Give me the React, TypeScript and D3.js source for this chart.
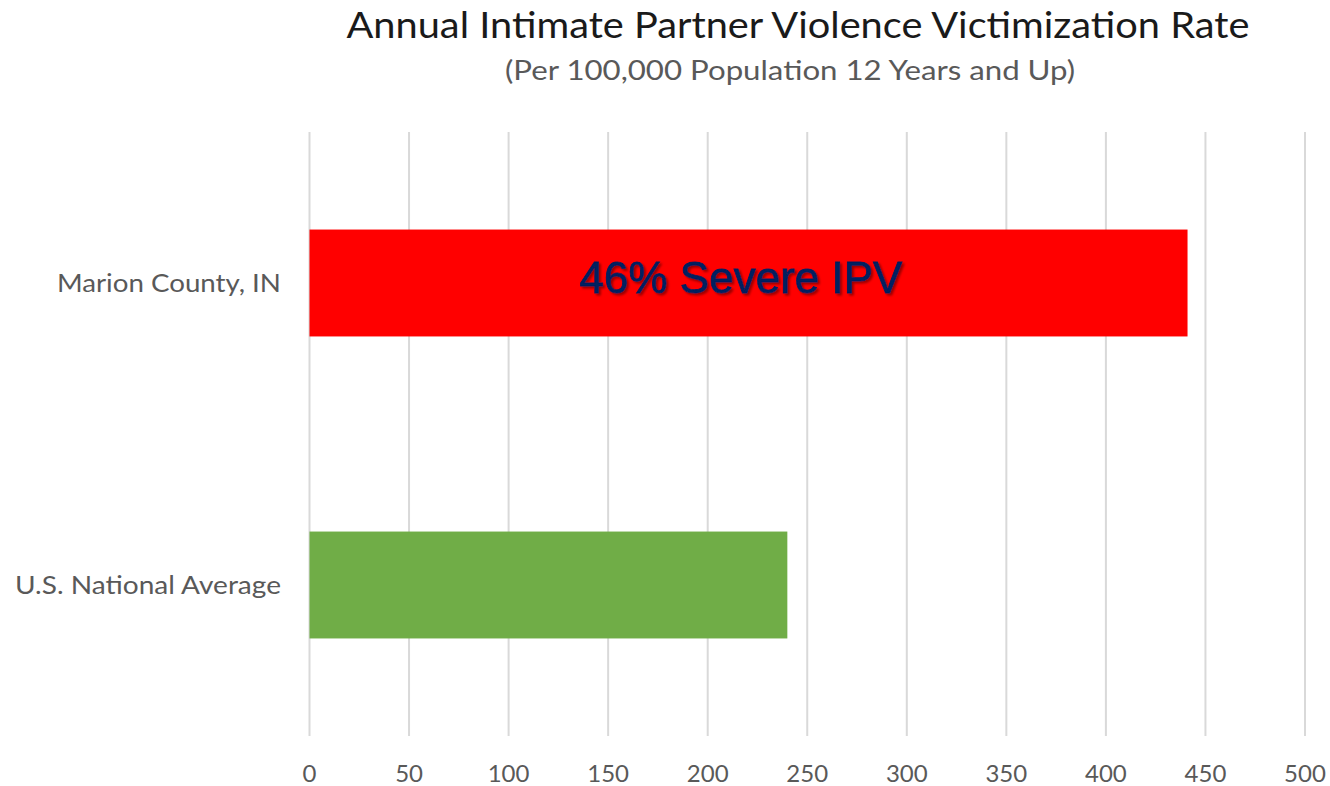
import React from "react";
import * as d3 from "d3";

const width = 1330;
const height = 786;
const margin = { top: 132, right: 25, bottom: 50, left: 309.5 };

const categories = ["Marion County, IN", "U.S. National Average"];
const rates = [441, 240];
const barColors = ["#ff0000", "#70ad47"];
const xTicks = [0, 50, 100, 150, 200, 250, 300, 350, 400, 450, 500];

const title = "Annual Intimate Partner Violence Victimization Rate";
const subtitle = "(Per 100,000 Population 12 Years and Up)";
const annotation = "46% Severe IPV";

const font = "Lato, 'Open Sans', sans-serif";
const gridColor = "#d9d9d9";
const labelColor = "#595959";
// widths of the category labels in the original (Calibri is narrow)
const labelWidths = [224, 266];

const xScale = d3
  .scaleLinear()
  .domain([0, 500])
  .range([margin.left, width - margin.right]);

const yScale = d3
  .scaleBand()
  .domain(categories)
  .range([margin.top, height - margin.bottom])
  .paddingInner(0.646)
  .paddingOuter(0.323);

export default function App() {
  const plotBottom = height - margin.bottom;
  return (
    <svg
      width={width}
      height={height}
      style={{ position: "absolute", left: 0, top: 0, background: "#fff" }}
    >
      <defs>
        <filter id="shadow" x="-10%" y="-20%" width="130%" height="150%">
          <feDropShadow dx="2" dy="2" stdDeviation="1" floodColor="#800000" floodOpacity="0.8" />
        </filter>
      </defs>

      {/* titles */}
      <text
        x={798}
        y={38}
        textAnchor="middle"
        fontFamily={font}
        fontSize={37}
        fill="#1a1a1a"
        textLength={903}
        lengthAdjust="spacingAndGlyphs"
      >
        {title}
      </text>
      <text
        x={790}
        y={80}
        textAnchor="middle"
        fontFamily={font}
        fontSize={26}
        fill={labelColor}
        textLength={570}
        lengthAdjust="spacingAndGlyphs"
      >
        {subtitle}
      </text>

      {/* gridlines */}
      {xTicks.map(t => (
        <line
          key={t}
          x1={xScale(t)}
          x2={xScale(t)}
          y1={margin.top}
          y2={plotBottom}
          stroke={gridColor}
          strokeWidth={2}
        />
      ))}

      {/* bars */}
      {categories.map((c, i) => (
        <rect
          key={c}
          x={xScale(0)}
          y={yScale(c)}
          width={xScale(rates[i]) - xScale(0)}
          height={yScale.bandwidth()}
          fill={barColors[i]}
        />
      ))}

      {/* category labels */}
      {categories.map((c, i) => (
        <text
          key={c}
          x={281}
          y={(yScale(c) as number) + yScale.bandwidth() / 2}
          dy="0.35em"
          textAnchor="end"
          fontFamily={font}
          fontSize={25}
          fill={labelColor}
          textLength={labelWidths[i]}
          lengthAdjust="spacingAndGlyphs"
        >
          {c}
        </text>
      ))}

      {/* x tick labels */}
      {xTicks.map(t => (
        <text
          key={t}
          x={xScale(t)}
          y={782}
          textAnchor="middle"
          fontFamily={font}
          fontSize={24}
          fill={labelColor}
        >
          {t}
        </text>
      ))}

      {/* annotation inside top bar */}
      <text
        x={741}
        y={293}
        textAnchor="middle"
        fontFamily="'Liberation Sans', Arial, sans-serif"
        fontSize={44}
        fill="#002060"
        stroke="#002060"
        strokeWidth={0.8}
        filter="url(#shadow)"
      >
        {annotation}
      </text>
    </svg>
  );
}
